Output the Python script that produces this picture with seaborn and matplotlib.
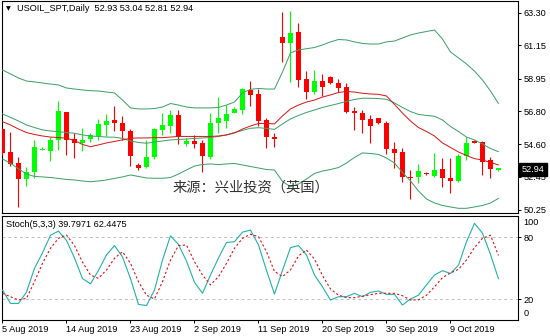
import numpy as np
import pandas as pd
import matplotlib
matplotlib.use("Agg")
import matplotlib.pyplot as plt
from matplotlib.transforms import blended_transform_factory
import seaborn as sns

# ---------------- data ----------------
date_labels = ["5 Aug 2019", "14 Aug 2019", "23 Aug 2019", "2 Sep 2019",
               "11 Sep 2019", "20 Sep 2019", "30 Sep 2019", "9 Oct 2019"]
date_bars = [0, 8, 16, 24, 32, 40, 48, 56]

opens = [55.59, 54.11, 53.38, 52.28, 52.79, 54.22, 54.18, 54.89, 56.72, 54.97,
         54.67, 54.97, 55.15, 55.86, 56.21, 56.03, 55.50, 53.25, 53.08, 53.74,
         55.55, 55.81, 56.54, 54.62, 54.84, 54.71, 53.78, 55.99, 56.16, 56.69,
         56.87, 58.20, 57.93, 56.21, 55.10, 61.73, 61.33, 62.04, 58.93, 58.08,
         58.81, 59.04, 58.65, 58.38, 56.83, 56.69, 56.26, 56.32, 56.03, 54.27,
         54.07, 52.46, 52.41, 52.72, 52.50, 52.95, 52.35, 52.14, 53.83, 54.82,
         54.73, 53.56, 52.93]
highs = [55.70, 55.44, 53.78, 53.08, 54.89, 54.45, 55.06, 57.49, 56.76, 55.37,
         55.66, 55.33, 56.26, 56.61, 57.14, 56.48, 55.60, 53.38, 54.89, 55.66,
         56.69, 56.87, 56.87, 54.99, 55.22, 54.89, 56.65, 57.75, 57.20, 57.05,
         58.31, 58.81, 58.24, 56.32, 55.33, 63.33, 63.45, 62.61, 59.47, 59.52,
         59.26, 59.12, 58.91, 58.65, 57.09, 56.87, 56.54, 56.35, 56.16, 54.77,
         54.34, 52.90, 53.30, 52.77, 54.02, 53.67, 53.67, 53.96, 55.06, 54.89,
         54.82, 53.78, 53.04]
lows = [53.90, 53.16, 50.47, 51.84, 52.35, 54.20, 53.51, 54.22, 53.89, 53.71,
        54.18, 54.77, 54.89, 55.15, 55.50, 54.89, 53.16, 52.90, 53.01, 53.61,
        55.22, 55.37, 54.62, 54.49, 54.33, 52.79, 53.65, 55.33, 55.70, 56.65,
        56.61, 57.14, 55.81, 54.33, 54.44, 60.08, 58.75, 58.42, 57.62, 57.93,
        57.80, 58.59, 58.08, 56.65, 55.55, 55.37, 54.71, 55.97, 53.94, 53.01,
        52.13, 50.97, 52.02, 52.57, 52.44, 51.76, 51.36, 52.10, 53.56, 54.67,
        52.55, 52.36, 52.81]
closes = [54.04, 53.30, 52.28, 52.77, 54.40, 54.26, 54.89, 56.83, 54.89, 54.71,
          54.89, 55.20, 55.93, 56.16, 55.99, 55.50, 53.83, 53.03, 53.74, 55.59,
          55.88, 56.54, 55.06, 54.84, 54.62, 53.83, 55.99, 56.32, 56.61, 56.92,
          58.24, 57.87, 56.16, 55.06, 54.93, 61.33, 62.00, 58.86, 58.08, 58.79,
          58.42, 58.65, 58.31, 56.76, 56.65, 56.21, 55.81, 56.00, 54.27, 54.04,
          52.41, 52.34, 52.83, 52.61, 52.92, 52.36, 52.17, 53.83, 54.71, 54.71,
          53.45, 52.95, 52.94]

bb_upper = [59.52, 59.26, 58.99, 58.79, 58.73, 58.66, 58.59, 58.53, 58.33, 58.26,
            58.20, 58.15, 58.13, 58.06, 58.00, 57.53, 57.01, 56.94, 56.94, 56.97,
            57.07, 57.30, 57.20, 57.07, 57.01, 57.01, 57.01, 57.04, 57.20, 57.40,
            58.00, 58.24, 58.30, 58.26, 58.26, 59.39, 60.65, 60.85, 60.93, 61.01,
            61.18, 61.38, 61.54, 61.51, 61.38, 61.28, 61.24, 61.24, 61.38, 61.44,
            61.64, 61.84, 61.97, 62.07, 62.17, 61.57, 60.72, 60.32, 59.92, 59.45,
            58.86, 58.13, 57.30]
bb_middle = [56.61, 56.38, 56.14, 55.88, 55.71, 55.55, 55.48, 55.44, 55.38, 55.33,
             55.22, 55.15, 55.12, 55.08, 55.07, 54.99, 54.82, 54.72, 54.67, 54.75,
             54.82, 54.89, 54.92, 54.95, 54.99, 55.02, 55.05, 55.12, 55.22, 55.38,
             55.52, 55.66, 55.70, 55.65, 55.59, 55.95, 56.28, 56.51, 56.71, 56.87,
             57.04, 57.17, 57.30, 57.44, 57.57, 57.65, 57.65, 57.63, 57.58, 57.34,
             57.04, 56.77, 56.58, 56.51, 56.46, 56.21, 55.78, 55.45, 55.08, 54.89,
             54.62, 54.32, 54.11]
bb_lower = [53.63, 53.34, 52.97, 52.63, 52.47, 52.44, 52.40, 52.34, 52.27, 52.24,
            52.17, 52.12, 52.17, 52.24, 52.34, 52.44, 52.57, 52.47, 52.37, 52.35,
            52.35, 52.40, 52.63, 52.90, 53.16, 53.26, 53.30, 53.25, 53.30, 53.33,
            53.23, 53.13, 53.03, 52.93, 52.90, 52.14, 51.79, 51.97, 52.30, 52.67,
            52.83, 52.93, 53.06, 53.36, 53.73, 54.03, 53.99, 53.93, 53.69, 53.36,
            52.73, 52.17, 51.51, 50.98, 50.71, 50.55, 50.45, 50.36, 50.36, 50.45,
            50.55, 50.71, 51.02]
ma_red = [56.10, 55.88, 55.61, 55.38, 55.25, 55.15, 55.08, 55.05, 55.00, 54.85,
          54.59, 54.44, 54.56, 54.69, 54.79, 54.89, 55.00, 55.02, 55.02, 55.04,
          55.04, 55.08, 55.12, 55.12, 55.12, 55.12, 55.12, 55.15, 55.22, 55.35,
          55.61, 55.81, 55.98, 55.98, 55.95, 56.48, 56.94, 57.20, 57.40, 57.53,
          57.73, 57.87, 58.03, 58.10, 58.06, 57.98, 57.93, 57.91, 57.80, 57.24,
          56.67, 56.14, 55.71, 55.45, 55.15, 54.69, 54.39, 54.09, 53.86, 53.65,
          53.56, 53.40, 53.23]

stoch_k = [29, 16, 16, 27, 50, 65, 82, 86, 77, 60,
           40, 35, 48, 63, 72, 61, 40, 15, 14, 29,
           58, 81.5, 73, 57, 36.5, 25.8, 43.5, 60, 75, 75.7,
           85, 87, 72.6, 48, 25, 48, 70, 72, 63, 43.5,
           32, 19.3, 22.5, 22.5, 25.8, 22.5, 26.8, 28, 24.8, 24.8,
           14.5, 20.3, 24, 34, 43.5, 47.7, 45, 53, 75.7, 93.5,
           84, 63.5, 39.7971]
stoch_d = [25.8, 22.5, 19.3, 21, 37, 54.8, 69.4, 79, 82.2, 72,
           56, 43.5, 40.3, 48.4, 59.7, 66, 54.8, 37, 24, 20.3,
           37, 58, 72, 72.5, 56.4, 43.5, 34, 41.9, 54.8, 69.4,
           79, 83, 80.6, 66, 47, 42, 48.4, 62, 67.7, 59,
           43, 30, 24, 21.6, 21.6, 23, 24.5, 25.8, 25.8, 25.8,
           23.5, 19.3, 19.5, 24, 32, 41, 45.5, 49, 58, 70,
           79, 82, 62.4475]

price_ticks = [63.30, 61.15, 58.95, 56.80, 54.60, 52.45, 50.25]
stoch_levels = [20, 80]

# ---------------- style ----------------
sns.set_style("white")
plt.rcParams["font.family"] = ["Liberation Sans", "DejaVu Sans"]
plt.rcParams["text.color"] = "black"

W, H = 550, 336
fig = plt.figure(figsize=(W / 100, H / 100), dpi=100)
fig.patch.set_facecolor("white")


def frac(x0, y0, x1, y1):
    return [x0 / W, 1 - y1 / H, (x1 - x0) / W, (y1 - y0) / H]


ax = fig.add_axes(frac(1.7, 1.0, 518.0, 213.3))
ax2 = fig.add_axes(frac(1.7, 215.6, 518.0, 320.0))

BAND = "#3FA068"
MARED = "#D81818"
UPC = "#00FF00"
DNC = "#FF0000"
LW = 0.72

bars = np.arange(len(closes))
o = np.array(opens)
c = np.array(closes)
h = np.array(highs)
l = np.array(lows)
rising = c >= o
col = np.where(rising, UPC, DNC)

ax.vlines(bars, l, h, colors=col, linewidth=0.8, zorder=3)
body = np.maximum(np.abs(c - o), 0.1)
ax.bar(bars, body, bottom=np.minimum(o, c), width=0.62, color=col,
       linewidth=0, zorder=4)

df = pd.DataFrame({"bar": bars, "upper": bb_upper, "middle": bb_middle,
                   "lower": bb_lower, "ma": ma_red})
for name in ["upper", "middle", "lower"]:
    sns.lineplot(data=df, x="bar", y=name, ax=ax, color=BAND, linewidth=LW,
                 zorder=5, legend=False)
sns.lineplot(data=df, x="bar", y="ma", ax=ax, color=MARED, linewidth=LW,
             zorder=6, legend=False)

sdf = pd.DataFrame({"bar": bars, "k": stoch_k, "d": stoch_d})
for lv in stoch_levels:
    ax2.axhline(lv, color="#C0C0C0", linewidth=0.7, linestyle=(0, (3, 3)), zorder=1)
sns.lineplot(data=sdf, x="bar", y="k", ax=ax2, color="#20B2AA", linewidth=0.8,
             zorder=4, legend=False)
sns.lineplot(data=sdf, x="bar", y="d", ax=ax2, color="#E01010", linewidth=0.8,
             linestyle=(0, (2, 2)), zorder=5, legend=False)

for a in (ax, ax2):
    a.set_xlim(-0.1, 64.44)
    a.set_xlabel("")
    a.set_ylabel("")
    a.set_facecolor("white")
    for s in a.spines.values():
        s.set_visible(True)
        s.set_color("black")
        s.set_linewidth(0.8)
    a.yaxis.tick_right()

ax.set_ylim(50.03, 64.09)
ax.set_yticks(price_ticks)
ax.set_yticklabels([f"{v:.2f}" for v in price_ticks])
ax.set_xticks([])
ax.tick_params(axis="y", right=True, left=False, length=2.5, width=0.7, pad=1.5,
               labelsize=6.6, direction="out", colors="black")

ax2.set_ylim(-0.03, 101.0)
ax2.set_yticks(stoch_levels)
ax2.set_yticklabels([str(v) for v in stoch_levels])
ax2.tick_params(axis="y", right=True, left=False, length=2.5, width=0.7, pad=1.5,
                labelsize=6.6, direction="out", colors="black")
ax2.set_xticks(date_bars)
ax2.set_xticklabels(date_labels)
for t in ax2.get_xticklabels():
    t.set_horizontalalignment("left")
ax2.tick_params(axis="x", bottom=True, length=2.5, width=0.7, pad=1.0,
                labelsize=6.6, direction="out", colors="black")

trans2 = blended_transform_factory(ax2.transAxes, ax2.transData)
ax2.text(1 + 5.5 / 516.3, 94.8, "100", transform=trans2, fontsize=6.6,
         va="center", ha="left", clip_on=False)
ax2.text(1 + 5.5 / 516.3, 6.7, "0", transform=trans2, fontsize=6.6,
         va="center", ha="left", clip_on=False)

# current price box
trans = blended_transform_factory(ax.transAxes, ax.transData)
ax.text(1 + 3.6 / 516.3, closes[-1], f"{closes[-1]:.2f}", transform=trans,
        color="white", fontsize=6.6, va="center", ha="left", clip_on=False,
        zorder=10, bbox=dict(boxstyle="square,pad=0.25", fc="black", ec="black"))

# headers
fig.text(5.5 / W, 1 - 8.7 / H, "▼", fontsize=4.5, family=["DejaVu Sans"],
         va="center", ha="left")
fig.text(17 / W, 1 - 8.7 / H,
         f"USOIL_SPT,Daily  {opens[-1]:.2f} {highs[-1]:.2f} {lows[-1]:.2f} {closes[-1]:.2f}",
         fontsize=6.6, va="center", ha="left")
fig.text(6 / W, 1 - 224.3 / H,
         f"Stoch(5,3,3) {stoch_k[-1]:.4f} {stoch_d[-1]:.4f}",
         fontsize=6.6, va="center", ha="left")

# watermark
fig.text(173 / W, 1 - 188 / H, "来源：兴业投资（英国）", fontsize=10.3,
         family=["Noto Sans CJK SC", "DejaVu Sans"], color="#333333",
         va="center", ha="left", zorder=20)

fig.savefig("out.png", dpi=100)
